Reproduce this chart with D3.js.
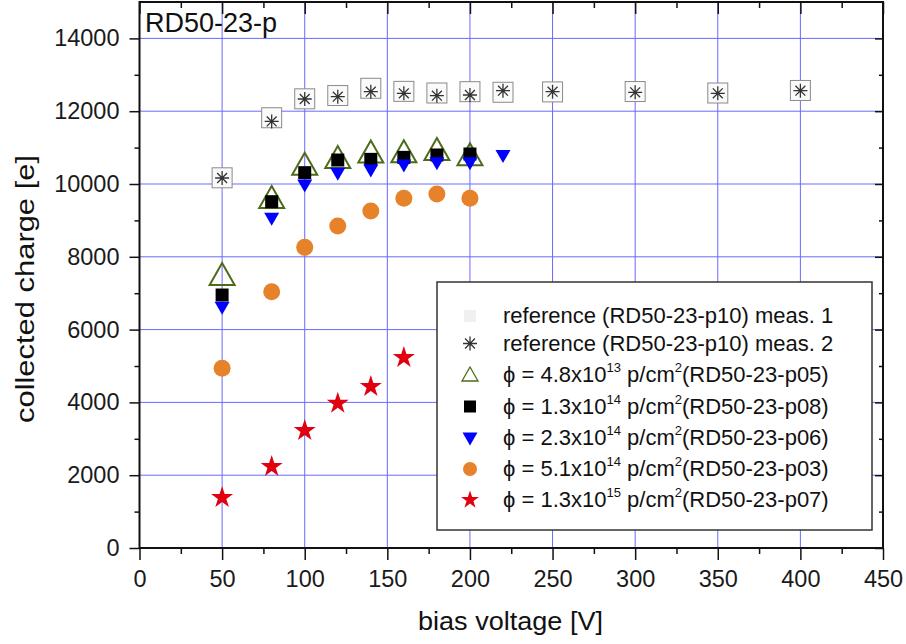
<!DOCTYPE html>
<html>
<head>
<meta charset="utf-8">
<script src="https://cdn.jsdelivr.net/npm/d3@7"></script>
<style>
  html, body { margin: 0; padding: 0; background: #fff; }
  svg { display: block; font-family: "Liberation Sans", Arial, sans-serif; }
</style>
</head>
<body>
<svg id="chart" width="906" height="644"></svg>
<script>
// Bias voltage scan of collected charge, RD50-23-p sensors
const refVoltage = [50, 80, 100, 120, 140, 160, 180, 200, 220, 250, 300, 350, 400];
const refMeas1 = [10170, 11820, 12340, 12430, 12630, 12545, 12500, 12536, 12520, 12530, 12540, 12500, 12570];
const refMeas2 = [10165, 11720, 12335, 12400, 12536, 12490, 12427, 12445, 12563, 12536, 12519, 12490, 12563];

const p05Voltage = [50, 80, 100, 120, 140, 160, 180, 200];
const p05Charge = [7500, 9615, 10530, 10714, 10865, 10870, 10934, 10788];

const p08Voltage = [50, 80, 100, 120, 140, 160, 180, 200];
const p08Charge = [6950, 9514, 10311, 10659, 10677, 10732, 10797, 10824];

const p06Voltage = [50, 80, 100, 120, 140, 160, 180, 200, 220];
const p06Charge = [6612, 9057, 9973, 10293, 10385, 10522, 10587, 10587, 10780];

const p03Voltage = [50, 80, 100, 120, 140, 160, 180, 200];
const p03Charge = [4937, 7042, 8260, 8846, 9258, 9606, 9725, 9606];

const p07Voltage = [50, 80, 100, 120, 140, 160];
const p07Charge = [1382, 2234, 3223, 3975, 4432, 5229];

const xMajorTicks = [0, 50, 100, 150, 200, 250, 300, 350, 400, 450];
const xMinorTicks = [25, 75, 125, 175, 225, 275, 325, 375, 425];
const yMajorTicks = [0, 2000, 4000, 6000, 8000, 10000, 12000, 14000];
const yMinorTicks = [1000, 3000, 5000, 7000, 9000, 11000, 13000];

const legendEntries = [
  { key: "meas1", text: ["reference (RD50-23-p10) meas. 1"] },
  { key: "meas2", text: ["reference (RD50-23-p10) meas. 2"] },
  { key: "p05", text: ["ϕ = 4.8x10", "13", " p/cm", "2", "(RD50-23-p05)"] },
  { key: "p08", text: ["ϕ = 1.3x10", "14", " p/cm", "2", "(RD50-23-p08)"] },
  { key: "p06", text: ["ϕ = 2.3x10", "14", " p/cm", "2", "(RD50-23-p06)"] },
  { key: "p03", text: ["ϕ = 5.1x10", "14", " p/cm", "2", "(RD50-23-p03)"] },
  { key: "p07", text: ["ϕ = 1.3x10", "15", " p/cm", "2", "(RD50-23-p07)"] }
];

const svg = d3.select("#chart");
const plotLeft = 139.5, plotRight = 883, plotTop = 2, plotBottom = 548;

const x = d3.scaleLinear().domain([0, 450]).range([plotLeft, plotRight]);
const y = d3.scaleLinear().domain([0, 15000]).range([plotBottom, plotTop]);

// grid
const grid = svg.append("g").attr("stroke", "#5050ff").attr("stroke-width", 1).attr("opacity", 0.85);
grid.selectAll(".gx").data(xMajorTicks.filter(d => d > 0 && d < 450)).join("line")
  .attr("x1", d => x(d)).attr("x2", d => x(d)).attr("y1", plotTop).attr("y2", plotBottom);
grid.selectAll(".gy").data(yMajorTicks.filter(d => d > 0)).join("line")
  .attr("y1", d => y(d)).attr("y2", d => y(d)).attr("x1", plotLeft).attr("x2", plotRight);

// axes
const tickFont = 23.5;
function styleAxis(g) {
  g.select(".domain").remove();
  g.selectAll("line").attr("stroke", "#111").attr("stroke-width", 1.5);
  g.selectAll("text").attr("fill", "#1a1a1a").style("font-size", tickFont + "px")
    .style("font-family", '"Liberation Sans", Arial, sans-serif');
}
const fmt = d3.format("d");
svg.append("g").attr("transform", `translate(0,${plotBottom})`)
  .call(d3.axisBottom(x).tickValues(xMajorTicks).tickSize(12).tickPadding(10).tickFormat(fmt))
  .call(styleAxis);
svg.append("g").attr("transform", `translate(0,${plotBottom})`)
  .call(d3.axisBottom(x).tickValues(xMinorTicks).tickSize(6).tickFormat(""))
  .call(styleAxis);
svg.append("g").attr("transform", `translate(${plotLeft},0)`)
  .call(d3.axisLeft(y).tickValues(yMajorTicks).tickSize(10).tickPadding(10).tickFormat(fmt))
  .call(styleAxis);
svg.append("g").attr("transform", `translate(${plotLeft},0)`)
  .call(d3.axisLeft(y).tickValues(yMinorTicks).tickSize(5).tickFormat(""))
  .call(styleAxis);
svg.append("g").attr("transform", `translate(0,${plotTop})`)
  .call(d3.axisTop(x).tickValues(xMajorTicks).tickSize(-12).tickFormat(""))
  .call(styleAxis);
svg.append("g").attr("transform", `translate(0,${plotTop})`)
  .call(d3.axisTop(x).tickValues(xMinorTicks).tickSize(-6).tickFormat(""))
  .call(styleAxis);
svg.append("g").attr("transform", `translate(${plotRight},0)`)
  .call(d3.axisRight(y).tickValues(yMajorTicks).tickSize(-8).tickFormat(""))
  .call(styleAxis);
svg.append("g").attr("transform", `translate(${plotRight},0)`)
  .call(d3.axisRight(y).tickValues(yMinorTicks).tickSize(-4).tickFormat(""))
  .call(styleAxis);

// frame
svg.append("rect").attr("x", plotLeft).attr("y", plotTop).attr("width", plotRight - plotLeft).attr("height", plotBottom - plotTop)
  .attr("fill", "none").attr("stroke", "#111").attr("stroke-width", 2);

// symbols
const asteriskPath = (r) => {
  let p = "";
  for (let i = 0; i < 4; i++) {
    const a = i * Math.PI / 4;
    const dx = r * Math.cos(a), dy = r * Math.sin(a);
    p += `M${-dx},${-dy}L${dx},${dy}`;
  }
  return p;
};
const styles = {
  meas1: g => g.append("rect").attr("x", -10).attr("y", -10).attr("width", 20).attr("height", 20)
    .attr("fill", "#fafafa").attr("stroke", "#8a8a8a").attr("stroke-width", 1),
  meas2: g => g.append("path").attr("d", asteriskPath(7)).attr("stroke", "#333").attr("stroke-width", 1.3).attr("fill", "none"),
  p05: g => g.append("path").attr("d", "M0,-13L12.5,9L-12.5,9Z").attr("transform", "translate(0,1)")
    .attr("fill", "none").attr("stroke", "#4d6b19").attr("stroke-width", 2),
  p08: g => g.append("rect").attr("x", -6.5).attr("y", -6.5).attr("width", 13).attr("height", 13).attr("fill", "#000"),
  p06: g => g.append("path").attr("d", "M-7.5,-5.5L7.5,-5.5L0,7.5Z").attr("fill", "#0000ff"),
  p03: g => g.append("circle").attr("r", 8.5).attr("fill", "#e6822a"),
  p07: g => g.append("path").attr("d", d3.symbol(d3.symbolStar, 150)()).attr("fill", "#e00010")
};

function plotSeries(key, xs, ys) {
  const pts = d3.zip(xs, ys);
  svg.append("g").attr("class", key).selectAll("g").data(pts).join("g")
    .attr("transform", d => `translate(${x(d[0])},${y(d[1])})`)
    .each(function () { styles[key](d3.select(this)); });
}
plotSeries("meas1", refVoltage, refMeas1);
plotSeries("meas2", refVoltage, refMeas2);
plotSeries("p05", p05Voltage, p05Charge);
plotSeries("p08", p08Voltage, p08Charge);
plotSeries("p06", p06Voltage, p06Charge);
plotSeries("p03", p03Voltage, p03Charge);
plotSeries("p07", p07Voltage, p07Charge);

// sensor label
svg.append("text").attr("x", 145).attr("y", 32).text("RD50-23-p")
  .style("font-size", "27px").attr("fill", "#111");

// legend
const legendBaselines = [323, 350.5, 382, 413.5, 445, 476, 507];
const lg = svg.append("g");
lg.append("rect").attr("x", 437).attr("y", 282).attr("width", 435).attr("height", 248)
  .attr("fill", "#fff").attr("stroke", "#333").attr("stroke-width", 1.5);
legendEntries.forEach((e, i) => {
  const base = legendBaselines[i];
  const sym = lg.append("g").attr("transform", `translate(470,${base - 7})`);
  if (e.key === "meas1") {
    sym.append("rect").attr("x", -6).attr("y", -6).attr("width", 12).attr("height", 12).attr("fill", "#f0f0f0");
  } else if (e.key === "p05") {
    sym.append("path").attr("d", "M0,-8L8,6L-8,6Z").attr("fill", "none").attr("stroke", "#4d6b19").attr("stroke-width", 1.3);
  } else if (e.key === "p08") {
    sym.append("rect").attr("x", -6).attr("y", -6).attr("width", 12).attr("height", 12).attr("fill", "#000");
  } else if (e.key === "p03") {
    sym.append("circle").attr("r", 7).attr("fill", "#e6822a");
  } else if (e.key === "p07") {
    sym.append("path").attr("d", d3.symbol(d3.symbolStar, 100)()).attr("fill", "#e00010");
  } else {
    styles[e.key](sym);
  }
  const t = lg.append("text").attr("x", 503).attr("y", base).style("font-size", "22px").attr("fill", "#111");
  e.text.forEach((s, j) => {
    const sup = j === 1 || j === 3;
    t.append("tspan").text(s)
      .attr("dy", sup ? -10 : (j > 0 ? 10 : 0))
      .style("font-size", sup ? "13px" : "22px");
  });
});

// axis titles
svg.append("text").attr("x", 510.5).attr("y", 630).attr("text-anchor", "middle")
  .attr("textLength", 185).attr("lengthAdjust", "spacingAndGlyphs")
  .style("font-size", "25px").attr("fill", "#111").text("bias voltage [V]");
svg.append("text").attr("transform", "translate(34,289) rotate(-90)").attr("text-anchor", "middle")
  .attr("textLength", 268).attr("lengthAdjust", "spacingAndGlyphs")
  .style("font-size", "25px").attr("fill", "#111").text("collected charge [e]");
</script>
</body>
</html>
